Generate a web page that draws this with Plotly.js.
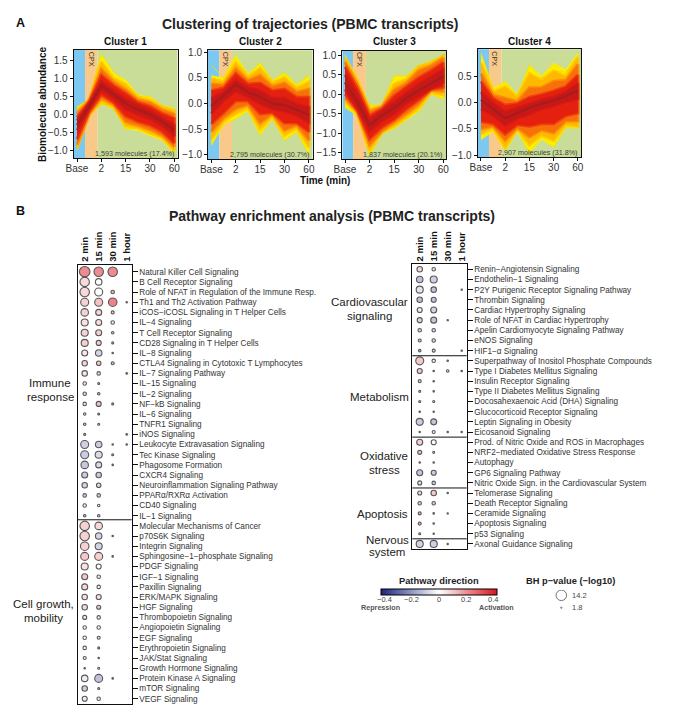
<!DOCTYPE html>
<html><head><meta charset="utf-8">
<script src="https://cdn.plot.ly/plotly-3.0.1.min.js"></script>
<style>html,body{margin:0;padding:0;background:#fff}</style></head>
<body><div id="chart" style="width:675px;height:712px"></div>
<script>
// ---------- trajectory panels: time nodes and tick labels ----------
const nodes = [0,0.5,1,1.5,2,2.5,3,3.5,4];
const timeTickVals = [0,1,2,3,4];
const timeTickText = ['Base','2','15','30','60'];
const cpxWindow = [0.33,0.85];
const moleculeNotes = ['1,593 molecules (17.4%)','2,795 molecules (30.7%)','1,837 molecules (20.1%)','2,907 molecules (31.8%)'];

// Cluster 1 envelopes (outer to inner) and centre
const c1_t0=[0.21,0.42,1.66,1.15,0.95,0.55,0.48,0.25,0.17], c1_b0=[-1.0,-0.05,0.28,0.15,-0.40,-0.45,-0.60,-0.72,-1.1];
const c1_t1=[0.12,0.40,1.45,1.0,0.82,0.48,0.40,0.2,0.10],   c1_b1=[-0.95,-0.02,0.35,0.2,-0.32,-0.38,-0.52,-0.65,-1.0];
const c1_t2=[0.02,0.38,1.25,0.9,0.68,0.4,0.32,0.12,0.0],    c1_b2=[-0.85,0.02,0.45,0.28,-0.2,-0.3,-0.42,-0.58,-0.9];
const c1_t3=[-0.08,0.34,1.08,0.8,0.58,0.33,0.22,0.02,-0.12],c1_b3=[-0.7,0.07,0.55,0.33,-0.05,-0.2,-0.3,-0.48,-0.8];
const c1_t4=[-0.18,0.3,0.9,0.65,0.42,0.25,0.1,-0.1,-0.3],   c1_b4=[-0.45,0.15,0.68,0.45,0.15,0,-0.12,-0.32,-0.6];
const c1_mid=[-0.3,0.22,0.8,0.55,0.3,0.13,0.0,-0.2,-0.45];
const c1_out=[[0.18,0.4,1.66,1.2,0.85,0.5,0.5,0.22,0.15],[-0.6,-0.02,0.28,0.25,-0.42,-0.36,-0.55,-0.6,-1.05]];

// Cluster 2
const c2_t0=[0.55,0.5,0.95,0.58,0.78,0.45,0.6,0.35,0.55],   c2_b0=[-0.82,-0.42,-0.3,-0.15,-0.62,-0.3,-0.72,-0.55,-1.0];
const c2_t1=[0.48,0.42,0.8,0.52,0.68,0.4,0.5,0.3,0.42],     c2_b1=[-0.7,-0.35,-0.2,-0.08,-0.5,-0.25,-0.62,-0.48,-0.85];
const c2_t2=[0.38,0.36,0.68,0.45,0.55,0.33,0.4,0.22,0.28],  c2_b2=[-0.55,-0.28,-0.1,-0.02,-0.38,-0.2,-0.52,-0.42,-0.72];
const c2_t3=[0.25,0.3,0.58,0.38,0.4,0.25,0.28,0.12,0.12],   c2_b3=[-0.4,-0.18,0.05,0.05,-0.2,-0.18,-0.38,-0.38,-0.55];
const c2_t4=[0.1,0.22,0.45,0.3,0.25,0.1,0.1,-0.02,-0.08],   c2_b4=[-0.2,0.06,0.25,0.13,0.0,-0.1,-0.15,-0.23,-0.36];
const c2_mid=[-0.05,0.15,0.37,0.22,0.13,0.0,-0.03,-0.12,-0.22];
const c2_out=[[0.75,0.5,0.9,0.55,0.8,0.45,0.6,0.38,0.55],[0.5,0.45,0.75,0.5,0.72,0.4,0.55,0.3,0.56],[-0.82,-0.4,-0.3,-0.12,-0.6,-0.28,-0.72,-0.55,-0.98]];

// Cluster 3
const c3_t0=[1.0,0.42,-0.28,-0.28,0.46,0.46,0.74,0.84,1.0], c3_b0=[-0.35,-0.55,-1.56,-1.02,-0.88,-0.66,-0.45,0.0,-0.13];
const c3_t1=[0.92,0.35,-0.38,-0.3,0.25,0.38,0.7,0.8,0.98],  c3_b1=[-0.2,-0.5,-1.45,-0.98,-0.82,-0.6,-0.35,0.05,-0.02];
const c3_t2=[0.82,0.25,-0.45,-0.33,0.1,0.28,0.6,0.72,0.92], c3_b2=[-0.1,-0.45,-1.3,-0.95,-0.72,-0.5,-0.25,0.1,0.08];
const c3_t3=[0.7,0.15,-0.55,-0.38,-0.05,0.18,0.42,0.6,0.8], c3_b3=[0.0,-0.42,-1.15,-0.85,-0.65,-0.38,-0.15,0.12,0.18];
const c3_t4=[0.5,0,-0.66,-0.43,-0.2,0.03,0.25,0.44,0.62],   c3_b4=[0.12,-0.35,-0.95,-0.68,-0.5,-0.23,-0.05,0.14,0.3];
const c3_mid=[0.3,-0.2,-0.8,-0.55,-0.35,-0.1,0.1,0.28,0.45];
const c3_out=[[1.0,0.3,-0.3,-0.3,0.46,0.46,0.72,0.82,1.0],[-0.32,-0.55,-1.55,-1.02,-0.85,-0.5,-0.45,0.02,-0.12]];

// Cluster 4
const c4_t0=[0.94,0.27,0.4,0.15,0.71,0.5,0.75,0.62,0.94],   c4_b0=[-0.71,-0.55,-0.93,-0.55,-0.96,-0.7,-0.85,-0.46,-0.49];
const c4_t1=[0.75,0.2,0.3,0.1,0.55,0.42,0.6,0.5,0.85],      c4_b1=[-0.6,-0.48,-0.85,-0.5,-0.8,-0.62,-0.72,-0.42,-0.45];
const c4_t2=[0.55,0.14,0.08,0.02,0.28,0.28,0.4,0.42,0.72],  c4_b2=[-0.5,-0.45,-0.72,-0.48,-0.65,-0.52,-0.58,-0.35,-0.35];
const c4_t3=[0.4,0.08,-0.05,-0.02,0.1,0.15,0.22,0.3,0.52],  c4_b3=[-0.36,-0.4,-0.6,-0.42,-0.45,-0.4,-0.4,-0.25,-0.2];
const c4_t4=[0.2,-0.02,-0.18,-0.1,-0.03,0.05,0.1,0.2,0.36], c4_b4=[-0.12,-0.24,-0.43,-0.3,-0.22,-0.12,-0.06,0.02,0.07];
const c4_mid=[0.05,-0.12,-0.3,-0.2,-0.1,-0.02,0.03,0.12,0.22];
const c4_out=[[0.94,0.25,0.38,0.1,0.7,0.45,0.72,0.55,0.9],[-0.7,-0.5,-0.9,-0.5,-0.95,-0.65,-0.84,-0.48,-0.49],[0.72,0.15,0.25,0.12,0.45,0.48,0.6,0.58,0.88]];

const bandColors = ['#fff000','#ffb800','#f8700a','#e6200f','#c81818'];
const bandEdges  = ['rgba(255,240,0,0.9)','rgba(255,184,0,0.6)','rgba(248,112,10,0.6)','rgba(230,32,15,0.6)','rgba(200,24,24,0.6)'];
const centreColor = '#a81c1c';

// ---------- pathway enrichment ----------
const columns = ['2 min','15 min','30 min','1 hour'];
const pathwaysLeft = ['Natural Killer Cell Signaling','B Cell Receptor Signaling','Role of NFAT in Regulation of the Immune Resp.','Th1 and Th2 Activation Pathway','iCOS−iCOSL Signaling in T Helper Cells','IL−4 Signaling','T Cell Receptor Signaling','CD28 Signaling in T Helper Cells','IL−8 Signaling','CTLA4 Signaling in Cytotoxic T Lymphocytes','IL−7 Signaling Pathway','IL−15 Signaling','IL−2 Signaling','NF−kB Signaling','IL−6 Signaling','TNFR1 Signaling','iNOS Signaling','Leukocyte Extravasation Signaling','Tec Kinase Signaling','Phagosome Formation','CXCR4 Signaling','Neuroinflammation Signaling Pathway','PPARα/RXRα Activation','CD40 Signaling','IL−1 Signaling','Molecular Mechanisms of Cancer','p70S6K Signaling','Integrin Signaling','Sphingosine−1−phosphate Signaling','PDGF Signaling','IGF−1 Signaling','Paxillin Signaling','ERK/MAPK Signaling','HGF Signaling','Thrombopoietin Signaling','Angiopoietin Signaling','EGF Signaling','Erythropoietin Signaling','JAK/Stat Signaling','Growth Hormone Signaling','Protein Kinase A Signaling','mTOR Signaling','VEGF Signaling'];
const pL_2min =[14.2,12.8,12.8,10.8,10.1,9.5,9.5,9.5,8.1,7.4,7.4,4.7,4.7,4.7,3.4,3.4,2.7,10.8,10.8,10.1,8.1,7.4,4.7,4.7,3.4,12.8,12.8,11.5,10.8,9.5,8.1,8.1,7.4,7.4,5.4,4.7,4.7,4.7,4.1,2.0,8.8,7.4,6.8];
const zL_2min =[.30,.10,.10,.12,.12,.08,.12,.13,.06,.12,.07,.05,.12,.08,.10,.15,.20,-.13,-.14,-.15,-.14,-.12,-.10,-.03,-.20,.12,.12,.12,.14,.08,.14,.10,.08,.10,.05,0,0,.02,.05,.25,-.05,-.14,-.05];
const pL_15min=[12.8,8.8,10.8,10.8,8.1,8.1,8.1,6.8,8.8,6.1,4.7,2.7,3.4,6.8,2.7,2.7,null,8.8,9.5,8.1,7.4,6.1,4.7,3.4,3.4,10.1,8.8,9.5,10.8,6.8,4.7,4.7,6.8,5.4,4.7,4.7,4.1,2.7,2.0,2.7,10.8,2.7,4.7];
const zL_15min=[.30,0,0,.16,.10,.08,.12,.12,-.12,.14,-.08,.20,.20,.16,.20,.05,null,-.14,-.10,-.10,-.15,-.10,-.10,0,-.15,.10,-.12,-.12,.12,0,.05,.02,.08,.15,-.03,0,-.08,.20,.20,0,-.17,.20,-.04];
const pL_30min=[12.8,null,4.7,11.5,4.1,4.7,3.4,2.7,2.0,4.1,null,null,null,2.7,null,null,null,2.0,2.7,2.0,null,null,null,null,null,null,2.0,null,2.0,null,null,null,null,null,null,null,null,null,null,null,2.0,null,null];
const zL_30min=[.30,null,.20,.32,.12,.05,.15,.20,.20,.20,null,null,null,.25,null,null,null,.10,.20,.25,null,null,null,null,null,null,-.20,null,.20,null,null,null,null,null,null,null,null,null,null,null,.10,null,null];
const pL_1h   =[null,null,null,1.8,null,null,null,null,null,null,2.0,null,null,null,null,null,2.0,2.0,null,null,null,null,null,null,null,null,null,null,null,null,null,null,null,null,null,null,null,null,null,null,null,null,null];
const zL_1h   =[null,null,null,.20,null,null,null,null,null,null,.20,null,null,null,null,null,-.10,.25,null,null,null,null,null,null,null,null,null,null,null,null,null,null,null,null,null,null,null,null,null,null,null,null,null];

const pathwaysRight = ['Renin−Angiotensin Signaling','Endothelin−1 Signaling','P2Y Purigenic Receptor Signaling Pathway','Thrombin Signaling','Cardiac Hypertrophy Signaling','Role of NFAT in Cardiac Hypertrophy','Apelin Cardiomyocyte Signaling Pathway','eNOS Signaling','HIF1−α Signaling','Superpathway of Inositol Phosphate Compounds','Type I Diabetes Mellitus Signaling','Insulin Receptor Signaling','Type II Diabetes Mellitus Signaling','Docosahexaenoic Acid (DHA) Signaling','Glucocorticoid Receptor Signaling','Leptin Signaling in Obesity','Eicosanoid Signaling','Prod. of Nitric Oxide and ROS in Macrophages','NRF2−mediated Oxidative Stress Response','Autophagy','GP6 Signaling Pathway','Nitric Oxide Sign. in the Cardiovascular System','Telomerase Signaling','Death Receptor Signaling','Ceramide Signaling','Apoptosis Signaling','p53 Signaling','Axonal Guidance Signaling'];
const pR_2min =[7.4,8.8,9.5,7.4,6.8,6.8,4.7,4.1,3.4,10.8,6.8,4.1,2.7,2.7,2.0,9.5,1.8,8.1,5.4,2.0,8.1,5.4,5.4,4.7,4.1,4.1,2.7,9.5];
const zR_2min =[.10,-.17,-.07,-.17,-.05,-.10,-.12,-.15,-.20,.14,.14,.10,.15,.15,.20,-.14,0,.12,.15,.20,-.16,-.08,.10,.15,.20,.20,.10,-.12];
const pR_15min=[4.7,9.5,7.4,6.8,8.1,8.1,4.7,4.7,4.1,4.7,2.0,2.0,2.0,2.7,1.8,8.1,4.1,6.8,2.7,2.0,6.8,4.7,7.4,4.7,2.0,2.0,1.8,9.5];
const zR_15min=[-.06,-.13,-.16,-.16,-.12,-.16,-.10,-.10,-.10,.05,.20,0,.03,.05,.20,-.16,-.05,0,0,.15,-.14,-.12,.14,.15,.10,.20,.05,-.13];
const pR_30min=[null,null,null,null,null,1.8,null,null,null,2.0,3.4,null,null,null,null,null,2.0,null,null,null,null,null,1.8,null,1.8,null,null,1.8];
const zR_30min=[null,null,null,null,null,.15,null,null,null,.20,.05,null,null,null,null,null,.03,null,null,null,null,null,0,null,.10,null,null,-.05];
const pR_1h   =[null,null,1.8,null,null,null,null,null,1.8,null,2.0,null,null,null,null,null,1.8,null,null,null,null,null,null,null,null,null,null,null];
const zR_1h   =[null,null,-.10,null,null,null,null,null,0,null,-.25,null,null,null,null,null,.05,null,null,null,null,null,null,null,null,null,null,null];

const sizeLegendValues = [14.2,1.8];
const directionTicks = [-0.4,-0.2,0,0.2,0.4];
const directionTickText = ['−0.4','−0.2','0','0.2','0.4'];

// ---------- helpers ----------
const W=675,H=712, FONT='"Liberation Sans", Arial, sans-serif';
const fx=p=>p/W, fy=p=>1-p/H;
const data=[];
function fan(ax,ay,levels,mid,outliers){
  levels.forEach((l,i)=>{
    data.push({type:'scatter',mode:'lines',xaxis:ax,yaxis:ay,hoverinfo:'skip',showlegend:false,
      x:nodes.concat(nodes.slice().reverse()),
      y:l[0].concat(l[1].slice().reverse()),
      fill:'toself',fillcolor:bandColors[i],line:{color:bandEdges[i],width:i===0?0.5:3.2}});
    if(i===0) outliers.forEach(o=>data.push({type:'scatter',mode:'lines',xaxis:ax,yaxis:ay,hoverinfo:'skip',showlegend:false,x:nodes,y:o,line:{color:'#f2e000',width:0.8}}));
  });
  data.push({type:'scatter',mode:'lines',xaxis:ax,yaxis:ay,hoverinfo:'skip',showlegend:false,x:nodes,y:mid,line:{color:centreColor,width:2.4}});
}
fan('x','y',[[c1_t0,c1_b0],[c1_t1,c1_b1],[c1_t2,c1_b2],[c1_t3,c1_b3],[c1_t4,c1_b4]],c1_mid,c1_out);
fan('x2','y2',[[c2_t0,c2_b0],[c2_t1,c2_b1],[c2_t2,c2_b2],[c2_t3,c2_b3],[c2_t4,c2_b4]],c2_mid,c2_out);
fan('x3','y3',[[c3_t0,c3_b0],[c3_t1,c3_b1],[c3_t2,c3_b2],[c3_t3,c3_b3],[c3_t4,c3_b4]],c3_mid,c3_out);
fan('x4','y4',[[c4_t0,c4_b0],[c4_t1,c4_b1],[c4_t2,c4_b2],[c4_t3,c4_b3],[c4_t4,c4_b4]],c4_mid,c4_out);

const colorscale=[[0,'#1a237e'],[0.5,'#ffffff'],[1,'#d9141e']];
let barDone=false;
function bubbles(ax,ay,cats,col,ps,zs){
  const keep=ps.map((p,i)=>p==null?-1:i).filter(i=>i>=0);
  const t={type:'scatter',mode:'markers',xaxis:ax,yaxis:ay,showlegend:false,
    x:keep.map(()=>col),y:keep.map(i=>cats[i]),
    marker:{size:keep.map(i=>ps[i]),sizemode:'diameter',sizeref:1.35,
      color:keep.map(i=>zs[i]),colorscale:colorscale,cmin:-0.43,cmax:0.43,
      line:{color:'#111',width:1.1},showscale:false}};
  if(!barDone){barDone=true;
    t.marker.showscale=true;
    t.marker.colorbar={orientation:'h',x:fx(438.5),xanchor:'center',y:fy(589.3),yanchor:'top',
      lenmode:'pixels',len:116.4,thicknessmode:'pixels',thickness:6,xpad:0,ypad:0,
      outlinewidth:1,outlinecolor:'#000',ticks:'',showticklabels:false};
  }
  data.push(t);
}
[[pL_2min,zL_2min],[pL_15min,zL_15min],[pL_30min,zL_30min],[pL_1h,zL_1h]].forEach((a,i)=>bubbles('x5','y5',pathwaysLeft,columns[i],a[0],a[1]));
[[pR_2min,zR_2min],[pR_15min,zR_15min],[pR_30min,zR_30min],[pR_1h,zR_1h]].forEach((a,i)=>bubbles('x6','y6',pathwaysRight,columns[i],a[0],a[1]));
data.push({type:'scatter',mode:'markers',xaxis:'x7',yaxis:'y7',showlegend:false,hoverinfo:'skip',
  x:[0,0],y:[0,1],marker:{size:sizeLegendValues,sizemode:'diameter',sizeref:1.35,color:'#fff',line:{color:'#222',width:0.9}}});

// ---------- axes ----------
const timePanels=[
 {k:'',  l:73.7,r:177.7,t:50,  b:158,  xr:[-0.136,4.14], yr:[-1.214,1.786], yt:[-1,-0.5,0,0.5,1,1.5]},
 {k:'2', l:208, r:312.7,t:50.3,b:159,  xr:[-0.135,4.155],yr:[-1.084,1.04],  yt:[-1,-0.5,0,0.5,1]},
 {k:'3', l:342.3,r:446.3,t:50.7,b:159, xr:[-0.11,4.12],  yr:[-1.66,1.11],   yt:[-1.5,-1,-0.5,0,0.5,1]},
 {k:'4', l:477.7,r:581,t:49.3,b:157.3, xr:[-0.136,4.13], yr:[-1.04,1.01],   yt:[-1,-0.5,0,0.5]}
];
const layout={width:W,height:H,autosize:false,margin:{l:0,r:0,t:0,b:0},paper_bgcolor:'#fff',plot_bgcolor:'#fff',
  font:{family:FONT,color:'#222'},showlegend:false,hovermode:'closest',shapes:[],annotations:[]};
const bandFills=['#7cc8f0','#f9c98a','#c9dc98'];
timePanels.forEach((p,i)=>{
  layout['xaxis'+p.k]={domain:[fx(p.l),fx(p.r)],range:p.xr,anchor:'y'+p.k,tickmode:'array',tickvals:timeTickVals,ticktext:timeTickText,
    ticks:'outside',ticklen:3,tickcolor:'#111',ticklabelstandoff:-2,tickfont:{size:10,color:'#333'},showgrid:false,zeroline:false,showline:true,mirror:true,linecolor:'#111',linewidth:1};
  layout['yaxis'+p.k]={domain:[fy(p.b),fy(p.t)],range:p.yr,anchor:'x'+p.k,tickmode:'array',tickvals:p.yt,tickformat:'.1f',
    ticks:'outside',ticklen:3,tickcolor:'#111',tickfont:{size:10,color:'#333'},showgrid:false,zeroline:false,showline:true,mirror:true,linecolor:'#111',linewidth:1};
  const xr='x'+p.k,yr='y'+p.k+' domain';
  [[p.xr[0],cpxWindow[0]],[cpxWindow[0],cpxWindow[1]],[cpxWindow[1],p.xr[1]]].forEach((s,j)=>layout.shapes.push(
    {type:'rect',layer:'below',xref:xr,yref:yr,x0:s[0],x1:s[1],y0:0,y1:1,fillcolor:bandFills[j],line:{width:0}}));
  const ann=(text,x,y,size,extra)=>layout.annotations.push(Object.assign({xref:'paper',yref:'paper',x:fx(x),y:fy(y),text,showarrow:false,xanchor:'center',yanchor:'middle',font:{size,color:'#222',family:FONT}},extra||{}));
  ann('<b>Cluster '+(i+1)+'</b>',(p.l+p.r)/2,41,10,{font:{size:10,color:'#111',family:FONT}});
  ann('CPX',p.l+(p.r-p.l)*0.168,p.t+9,7.2,{textangle:90,font:{size:7.2,color:'#333',family:FONT}});
  ann(moleculeNotes[i],p.r-43,p.b-5,7.2,{font:{size:7.2,color:'#3c3c3c',family:FONT}});
});
function bubbleAxes(k,l,r,t,b,xr,yr,cats){
  layout['xaxis'+k]={domain:[fx(l),fx(r)],range:xr,anchor:'y'+k,side:'top',type:'category',categoryorder:'array',categoryarray:columns,
    tickmode:'array',tickvals:columns,ticktext:columns,tickangle:-90,ticks:'',tickfont:{size:9.5,color:'#111',weight:'bold'},showgrid:false,zeroline:false,showline:true,mirror:true,linecolor:'#111',linewidth:1};
  layout['yaxis'+k]={domain:[fy(b),fy(t)],range:yr,anchor:'x'+k,side:'right',type:'category',categoryorder:'array',categoryarray:cats,
    tickmode:'linear',tick0:0,dtick:1,ticks:'outside',ticklen:5,tickcolor:'#111',tickfont:{size:8.2,color:'#333'},showgrid:false,zeroline:false,showline:true,mirror:true,linecolor:'#111',linewidth:1};
}
bubbleAxes('5',77.7,131.7,264.7,704.3,[-0.5,3.357],[42.55,-0.69],pathwaysLeft);
bubbleAxes('6',412.3,466.7,264.3,549.3,[-0.53,3.357],[27.53,-0.49],pathwaysRight);
layout.xaxis7={domain:[fx(550),fx(600)],range:[-11.3,38.7],anchor:'y7',visible:false};
layout.yaxis7={domain:[fy(613),fy(590)],range:[1.427,-0.427],anchor:'x7',visible:false};
[24.4].forEach(v=>layout.shapes.push({type:'line',xref:'x5 domain',yref:'y5',x0:0,x1:1,y0:v,y1:v,line:{color:'#111',width:1}}));
[8.5,16.5,21.5,26.5].forEach(v=>layout.shapes.push({type:'line',xref:'x6 domain',yref:'y6',x0:0,x1:1,y0:v,y1:v,line:{color:'#111',width:1}}));

// ---------- free text ----------
function T(text,x,y,size,color,extra){layout.annotations.push(Object.assign({xref:'paper',yref:'paper',x:fx(x),y:fy(y),text,showarrow:false,xanchor:'center',yanchor:'middle',font:{size,color:color||'#222',family:FONT}},extra||{}));}
T('<b>A</b>',20.5,23,12.5,'#111');
T('<b>B</b>',20.5,211,12.5,'#111');
T('<b>Clustering of trajectories (PBMC transcripts)</b>',310,24,14,'#222');
T('<b>Pathway enrichment analysis (PBMC transcripts)</b>',332,216,14,'#222');
T('<b>Time (min)</b>',325,180,10,'#111');
T('<b>Biomolecule abundance</b>',42,105,10,'#111',{textangle:-90});
[['Immune',50,382.7],['response',50,397],['Cell growth,',43,604],['mobility',43,618.3],
 ['Cardiovascular',369.5,301.7],['signaling',369.5,316],['Metabolism',379.5,397],['Oxidative',384,455.7],['stress',384,470],
 ['Apoptosis',383,514],['Nervous',387,540.3],['system',387,551.7]].forEach(g=>T(g[0],g[1],g[2],11.5,'#222'));
T('<b>Pathway direction</b>',438.7,580.7,9.3,'#222');
T('<b>BH p−value (−log10)</b>',570.7,581,9.3,'#222');
directionTickText.forEach((t,i)=>{
  // colour-bar tick labels, placed through the same value-to-pixel span as the bar
  T(t,438.5+directionTicks[i]*(116.4/0.86),599.7,7.5,'#444');
});
T('<b>Repression</b>',380,607.5,7.2,'#555');
T('<b>Activation</b>',496.7,607.5,7.2,'#555');
T('14.2',570,595.3,7.5,'#444',{xanchor:'left'});
T('1.8',569.5,607.7,7.5,'#444',{xanchor:'left'});

Plotly.newPlot('chart',data,layout,{displayModeBar:false,staticPlot:true});
</script></body></html>
